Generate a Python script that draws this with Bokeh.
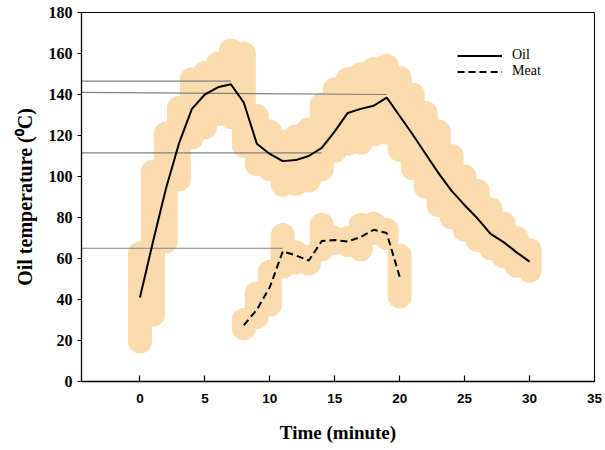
from bokeh.plotting import figure
from bokeh.models import Range1d, FixedTicker, Legend, LegendItem
from bokeh.embed import file_html
from bokeh.resources import INLINE

# ---- data ----
oil_time = list(range(0, 31))
oil_temp = [41, 68, 94, 116, 133, 140, 143.5, 145, 136, 116, 111, 107.5, 108, 110, 114,
            122, 131, 133, 134.5, 138.5, 129.5, 120.5, 111, 101.5, 93, 86, 79.5, 72, 68, 63, 58.5]
oil_lo = [19.5, 32.5, 68.5, 98.5, 119, 124, 130.5, 129, 115, 106, 103.5, 96, 96.5, 98, 103.5,
          112.5, 116, 116.5, 120.5, 121.5, 113, 104, 95, 86, 80, 74, 69, 65, 61, 56.5, 54]
oil_hi = [62.5, 102.5, 121, 133.5, 147.5, 150.5, 155, 161.5, 160, 129.5, 122, 117, 119.5, 123, 135,
          142.5, 147.5, 150, 152.5, 154, 148, 140, 131, 122, 110, 100, 93, 84, 77, 70, 64]

meat_time = list(range(8, 21))
meat_temp = [27.5, 35, 46, 63.5, 61.5, 59, 68.5, 69, 68.3, 70.5, 74, 72.4, 51]
meat_lo = [26, 31.5, 37.5, 56, 58, 57.5, 64.5, 67.5, 66.5, 64.5, 72.5, 70, 41.5]
meat_hi = [30, 43, 53.5, 71.5, 63, 61, 76.5, 70, 70, 76.5, 77, 74, 61.5]

guide_x0 = [-4.5, -4.5, -4.5, -4.5]
guide_x1 = [7, 19, 14, 11]
guide_y0 = [146.5, 141, 111.5, 65]
guide_y1 = [146.5, 140, 111.5, 65]

x_ticks = [0, 5, 10, 15, 20, 25, 30, 35]
y_ticks = [0, 20, 40, 60, 80, 100, 120, 140, 160, 180]

BAND = "#FADBAE"

p = figure(width=605, height=450, output_backend="svg", toolbar_location=None,
           x_range=Range1d(-4.5, 35), y_range=Range1d(0, 180),
           min_border_left=81, min_border_right=11, min_border_top=12, min_border_bottom=69)
p.xgrid.visible = False
p.ygrid.visible = False
p.outline_line_color = "black"
p.outline_line_width = 1
p.outline_line_alpha = 1
p.background_fill_color = "white"
p.border_fill_color = "white"

p.segment(x0=oil_time, y0=oil_lo, x1=oil_time, y1=oil_hi, line_width=24,
          line_cap="round", line_color=BAND)
p.segment(x0=meat_time, y0=meat_lo, x1=meat_time, y1=meat_hi, line_width=24,
          line_cap="round", line_color=BAND)

p.segment(x0=guide_x0, y0=guide_y0, x1=guide_x1, y1=guide_y1,
          line_color="#808080", line_width=1.2)

oil = p.line(oil_time, oil_temp, line_color="black", line_width=2)
meat = p.line(meat_time, meat_temp, line_color="black", line_width=2, line_dash="7 4")

legend = Legend(items=[LegendItem(label="Oil", renderers=[oil]),
                       LegendItem(label="Meat", renderers=[meat])],
                location=(376, 302))
legend.label_text_font = "Liberation Serif"
legend.label_text_font_size = "14px"
legend.label_text_color = "black"
legend.glyph_width = 45
legend.glyph_height = 15
legend.label_height = 15
legend.label_standoff = 10
legend.spacing = 0
legend.padding = 0
legend.margin = 0
legend.border_line_color = None
legend.background_fill_alpha = 0
p.add_layout(legend)

for ax in (p.xaxis[0], p.yaxis[0]):
    ax.axis_line_color = "black"
    ax.axis_line_width = 1.3
    ax.major_tick_line_color = "black"
    ax.major_tick_line_width = 1.2
    ax.minor_tick_line_color = None
    ax.major_label_text_color = "black"
    ax.major_label_text_font_style = "bold"
    ax.axis_label_text_color = "black"
    ax.axis_label_text_font = "Liberation Serif"
    ax.axis_label_text_font_style = "bold"

xa = p.xaxis[0]
xa.ticker = FixedTicker(ticks=x_ticks)
xa.major_tick_in = 6
xa.major_tick_out = 0
xa.major_label_text_font = "Liberation Sans"
xa.major_label_text_font_size = "13.5px"
xa.major_label_standoff = 12
xa.axis_label = "Time (minute)"
xa.axis_label_text_font_size = "19px"
xa.axis_label_standoff = 16

ya = p.yaxis[0]
ya.ticker = FixedTicker(ticks=y_ticks)
ya.major_tick_in = 0
ya.major_tick_out = 4
ya.major_label_text_font = "Liberation Serif"
ya.major_label_text_font_size = "16px"
ya.major_label_standoff = 5
ya.axis_label = "Oil temperature (\u2070C)"
ya.axis_label_text_font_size = "20px"
ya.axis_label_standoff = 10

open("out.html", "w").write(file_html(p, INLINE))
